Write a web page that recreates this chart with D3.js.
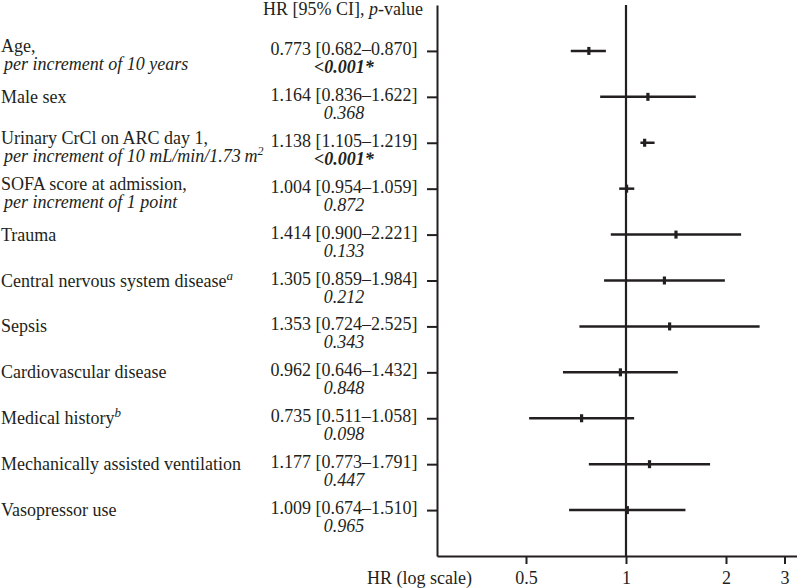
<!DOCTYPE html>
<html>
<head>
<meta charset="utf-8">
<script src="https://cdn.jsdelivr.net/npm/d3@7"></script>
<style>
  body { margin: 0; background: #fff; }
  svg text { font-family: "Liberation Serif", "Times New Roman", serif; fill: #231f20; }
</style>
</head>
<body>
<div id="chart"></div>
<script>
// forest plot data
const labels = [
  'Age,', 'Male sex', 'Urinary CrCl on ARC day 1,', 'SOFA score at admission,',
  'Trauma', 'Central nervous system disease', 'Sepsis', 'Cardiovascular disease',
  'Medical history', 'Mechanically assisted ventilation', 'Vasopressor use'
];
const subLabels = [
  'per increment of 10 years', '', 'per increment of 10 mL/min/1.73\u2009m', 'per increment of 1 point',
  '', '', '', '', '', '', ''
];
const subSup = ['', '', '2', '', '', '', '', '', '', '', ''];
const notes = ['', '', '', '', '', 'a', '', '', 'b', '', ''];
const hr = [0.773, 1.164, 1.138, 1.004, 1.414, 1.305, 1.353, 0.962, 0.735, 1.177, 1.009];
const ciLow = [0.682, 0.836, 1.105, 0.954, 0.900, 0.859, 0.724, 0.646, 0.511, 0.773, 0.674];
const ciHigh = [0.870, 1.622, 1.219, 1.059, 2.221, 1.984, 2.525, 1.432, 1.058, 1.791, 1.510];
const pValues = ['<0.001*', '0.368', '<0.001*', '0.872', '0.133', '0.212', '0.343', '0.848', '0.098', '0.447', '0.965'];
const significant = [true, false, true, false, false, false, false, false, false, false, false];
const xTicks = [0.5, 1, 2, 3];

const rows = labels.map((d, i) => ({
  label: d, sub: subLabels[i], sup: subSup[i], note: notes[i],
  hr: hr[i], lo: ciLow[i], hi: ciHigh[i], p: pValues[i], sig: significant[i]
}));

const W = 797, H = 588;
const plot = { left: 437, right: 797, top: 5, bottom: 556 };
const textCenter = 344;
const ink = '#231f20';

const svg = d3.select('#chart').append('svg')
  .attr('width', W).attr('height', H);

// log x scale, 100px per doubling
const x = d3.scaleLog().domain([0.5, 1]).range([526, 626]);
x.domain([x.invert(plot.left), x.invert(plot.right)]).range([plot.left, plot.right]);

// one slot per variable
const y = d3.scalePoint()
  .domain(d3.range(rows.length))
  .range([plot.top, plot.bottom])
  .padding(1);

// left axis with a tick per row
svg.append('g')
  .attr('transform', `translate(${plot.left},0)`)
  .call(d3.axisLeft(y).tickSize(10).tickSizeOuter(0).tickFormat(''))
  .call(g => g.selectAll('path, line').attr('stroke', ink).attr('stroke-width', 2));

// bottom axis
const xAxis = svg.append('g')
  .attr('transform', `translate(0,${plot.bottom})`)
  .call(d3.axisBottom(x).tickValues(xTicks).tickFormat(d3.format('')).tickSize(8).tickSizeOuter(0).tickPadding(7));
xAxis.selectAll('path, line').attr('stroke', ink).attr('stroke-width', 2);
xAxis.selectAll('text').style('font-size', '18px').attr('fill', ink);

svg.append('text')
  .attr('x', 472).attr('y', 584)
  .attr('text-anchor', 'end')
  .style('font-size', '18px')
  .text('HR (log scale)');

// reference line at HR = 1
svg.append('line')
  .attr('x1', x(1)).attr('x2', x(1))
  .attr('y1', plot.top).attr('y2', plot.bottom)
  .attr('stroke', ink).attr('stroke-width', 2.2);

// header
const header = svg.append('text')
  .attr('x', textCenter - 1).attr('y', 15)
  .attr('text-anchor', 'middle')
  .style('font-size', '18px');
header.append('tspan').text('HR [95% CI], ');
header.append('tspan').style('font-style', 'italic').text('p');
header.append('tspan').text('-value');

const fmt = d3.format('.3f');

const row = svg.selectAll('.row')
  .data(rows)
  .enter()
  .append('g')
  .attr('class', 'row')
  .attr('transform', (d, i) => `translate(0,${y(i)})`);

// CI whiskers
row.append('line')
  .attr('x1', d => x(d.lo)).attr('x2', d => x(d.hi))
  .attr('y1', 0).attr('y2', 0)
  .attr('stroke', ink).attr('stroke-width', 2.5);

// point estimate
row.append('rect')
  .attr('x', d => x(d.hr) - 1.6).attr('y', -4)
  .attr('width', 3.2).attr('height', 8)
  .attr('fill', ink);

// variable names
const name = row.append('text')
  .attr('x', 1)
  .attr('y', d => d.sub ? 1 : 6)
  .style('font-size', '18px');
name.append('tspan').text(d => d.label);
name.filter(d => d.note).append('tspan')
  .attr('dy', -7)
  .style('font-size', '13px')
  .style('font-style', 'italic')
  .text(d => d.note);

const sub = row.filter(d => d.sub).append('text')
  .attr('x', 4).attr('y', 19)
  .style('font-size', '18px')
  .style('font-style', 'italic');
sub.append('tspan').text(d => d.sub);
sub.filter(d => d.sup).append('tspan')
  .attr('dy', -7)
  .style('font-size', '12px')
  .text(d => d.sup);

// HR and p-value
row.append('text')
  .attr('x', textCenter).attr('y', 4)
  .attr('text-anchor', 'middle')
  .style('font-size', '18px')
  .text(d => `${fmt(d.hr)} [${fmt(d.lo)}\u2013${fmt(d.hi)}]`);

row.append('text')
  .attr('x', textCenter).attr('y', 22)
  .attr('text-anchor', 'middle')
  .style('font-size', '18px')
  .style('font-style', 'italic')
  .style('font-weight', d => d.sig ? 'bold' : 'normal')
  .text(d => d.p);
</script>
</body>
</html>
